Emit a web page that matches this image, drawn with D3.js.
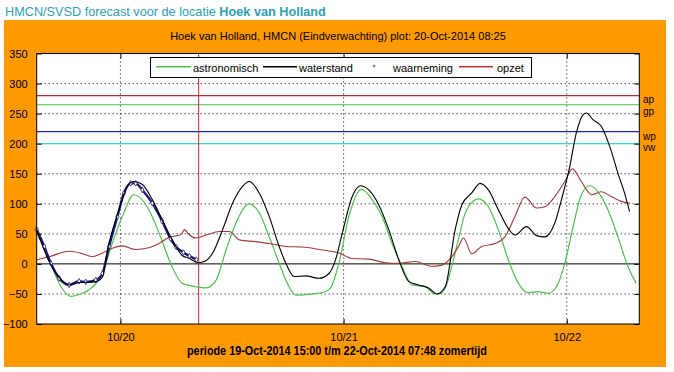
<!DOCTYPE html>
<html><head><meta charset="utf-8">
<script src="https://cdn.jsdelivr.net/npm/d3@7"></script>
<style>
body{margin:0;background:#fff;}
svg{display:block;font-family:Arial,"Liberation Sans",sans-serif;}
</style></head><body>
<svg id="c" width="674" height="372"></svg>
<script>
// ---- data (hours since 19-Oct-2014 15:00, values in cm) ----
const yTicks = [-100,-50,0,50,100,150,200,250,300,350];
const dayTicks = ["10/20","10/21","10/22"];
const levelNames = ["ap","gp","wp","vw"];
const levelValues = [280,265,220,200];
const legendLabels = ["astronomisch","waterstand","waarneming","opzet"];

const astroT = [0,1.35,2.5,3.67,4.7,5.64,7.07,8.14,9.21,10.46,12.06,13.32,14.39,15.64,17.14,18.21,19.29,20.36,21.43,22.85,23.93,25.0,26.07,27.14,27.86,29.64,31.07,31.6,32.5,33.57,34.93,36.07,37.14,38.21,39.28,40.35,41.78,42.68,43.21,43.93,44.64,45.36,46.07,46.43,47.5,48.57,49.64,50.71,51.79,52.86,53.93,55.0,55.89,56.79,57.68,58.57,59.47,60.36,61.43,62.5,63.57,64.46];
const astroV = [52,7,-35,-54,-50,-43,-15,35,79,115,90,45,1,-32,-38,-40,-27,23,68,100,85,45,1,-38,-52,-50,-46,-40,1,79,124,107,79,34,-4,-35,-38,-49,-50,-40,-4,42,84,95,108,95,57,7,-32,-48,-46,-49,-38,1,62,115,130,120,90,45,-4,-32];

const waterT = [0,1.3,2.4,3.49,4.64,6.25,7.07,7.61,8.85,9.75,10.46,11.36,12.43,13.5,14.57,15.64,16.43,17.32,18.03,18.92,19.99,21.06,22.14,22.85,23.93,25.0,26.07,26.79,27.68,28.93,30.36,31.43,32.14,32.86,33.93,34.82,35.71,36.79,37.86,38.93,40.0,41.07,42.14,43.03,43.93,45.0,45.71,46.78,47.68,48.57,49.64,50.71,51.43,52.68,53.75,54.64,55.71,56.43,57.32,58.03,58.75,59.1,59.82,60.71,61.61,62.5,63.21,63.75];
const waterV = [57,5,-22,-35,-31,-30,-22,23,90,129,137,132,107,73,40,14,9,2,4,18,57,101,129,137,118,79,29,1,-21,-20,-24,-16,7,51,112,130,123,98,57,7,-29,-35,-40,-50,-38,57,98,118,134,123,90,59,48,62,47,45,68,107,162,218,248,251,240,229,196,151,118,87];

const obsT = [0,0.81,1.53,2.42,3.49,4.56,5.28,6.35,7.07,7.78,8.68,9.39,10.1,10.64,11.36,12.43,13.5,14.39,15.0,15.78,16.43,17.17];
const obsV = [57,29,1,-24,-35,-29,-30,-27,-16,29,79,118,134,134,123,101,71,42,28,19,13,7];

const surgeT = [0,1.35,3.49,4.93,6.0,7.07,8.14,9.21,10.64,12.06,13.14,14.21,15.36,15.64,15.89,16.24,17.14,18.21,19.64,20.71,21.79,23.57,25.35,26.79,28.57,30.36,32.5,33.92,35.71,37.5,38.93,40.71,42.5,43.57,44.64,45.36,45.89,46.78,47.85,49.28,50.35,51.43,52.5,53.75,54.64,55.71,56.79,57.61,58.57,59.68,60.71,61.79,62.86,63.75];
const surgeV = [7,12,21,17,12,18,26,30,24,27,34,44,48,51,57,51,43,48,54,54,40,37,33,29,28,24,18,9,8,2,1,4,-4,-2,12,29,43,17,29,34,45,79,111,93,95,112,137,158,137,115,120,112,104,101];

// ---- layout ----
const svg = d3.select("#c");
const L = 36.7, R = 639.3, T = 53.5, B = 324;
const t0 = new Date(2014,9,19,15,0), t1 = new Date(2014,9,22,7,48);
const hr = h => new Date(t0.getTime() + h*3600000);
const x = d3.scaleTime().domain([t0,t1]).range([L,R]);
const y = d3.scaleLinear().domain([-100,350]).range([B,T]);

const cGreen = "#4fbf4f", cBlack = "#000000", cNavy = "#1c1c78", cRed = "#a3383a";

svg.append("rect").attr("x",4).attr("y",20).attr("width",662).attr("height",347).attr("fill","#ff9900");
svg.append("text").attr("x",5).attr("y",16).attr("fill","#2f9db3").style("font-size","12.7px")
  .text("HMCN/SVSD forecast voor de locatie ")
  .append("tspan").attr("font-weight","bold").text("Hoek van Holland");
svg.append("text").attr("x",338).attr("y",40).attr("text-anchor","middle").style("font-size","11px")
  .text("Hoek van Holland, HMCN (Eindverwachting) plot: 20-Oct-2014 08:25");

svg.append("rect").attr("x",L).attr("y",T).attr("width",R-L).attr("height",B-T).attr("fill","#fff");

// grid
const dayDates = dayTicks.map((d,i)=>new Date(2014,9,20+i));
const g = svg.append("g");
g.selectAll("line.hg").data(yTicks.filter(v=>v!==0 && v!==-100 && v!==350)).join("line").attr("class","hg")
  .attr("x1",L).attr("x2",R).attr("y1",d=>y(d)).attr("y2",d=>y(d))
  .attr("stroke","#000").attr("stroke-dasharray","1,3");
g.selectAll("line.vg").data(dayDates).join("line").attr("class","vg")
  .attr("x1",d=>x(d)).attr("x2",d=>x(d)).attr("y1",T).attr("y2",B)
  .attr("stroke","#000").attr("stroke-dasharray","1,3");
g.append("line").attr("x1",L).attr("x2",R).attr("y1",y(0)).attr("y2",y(0)).attr("stroke","#000");

// level lines
const levelColors = ["#a83236","#6fd06f","#22229a","#3fd0d8"];
levelValues.forEach((v,i)=>{
  g.append("line").attr("x1",L).attr("x2",R).attr("y1",y(v)).attr("y2",y(v)).attr("stroke",levelColors[i]).attr("stroke-width",1.4);
});
svg.selectAll("text.lvl").data(levelNames).join("text").attr("class","lvl")
  .attr("x",643).attr("y",(d,i)=>[102.5,114.5,140,151][i]).style("font-size","10px").attr("fill","#000").text(d=>d);

// now line
const nowX = x(new Date(2014,9,20,8,25));
svg.append("line").attr("x1",nowX).attr("x2",nowX).attr("y1",T).attr("y2",B).attr("stroke","#c0282a");

// series
const line = d3.line().x(d=>x(hr(d[0]))).y(d=>y(d[1])).curve(d3.curveMonotoneX);
const z = (a,b)=>a.map((t,i)=>[t,b[i]]);
svg.append("path").attr("d",line(z(astroT,astroV))).attr("fill","none").attr("stroke",cGreen).attr("stroke-width",1.2);
svg.append("path").attr("d",line(z(surgeT,surgeV))).attr("fill","none").attr("stroke",cRed).attr("stroke-width",1.1);
svg.append("path").attr("d",line(z(obsT,obsV))).attr("fill","none").attr("stroke",cNavy).attr("stroke-width",2.4);
svg.selectAll("path.obs").data(z(obsT,obsV)).join("path").attr("class","obs")
  .attr("d",d3.symbol(d3.symbolDiamond,9)).attr("transform",d=>`translate(${x(hr(d[0]))},${y(d[1])})`)
  .attr("fill","#fff").attr("stroke",cNavy).attr("stroke-width",0.8);
svg.append("path").attr("d",line(z(waterT,waterV))).attr("fill","none").attr("stroke",cBlack).attr("stroke-width",1.1);

// frame & axes
svg.append("rect").attr("x",L).attr("y",T).attr("width",R-L).attr("height",B-T).attr("fill","none").attr("stroke","#000");
const ya = svg.append("g").attr("transform",`translate(${L},0)`)
  .call(d3.axisLeft(y).tickValues(yTicks).tickSize(-5).tickPadding(9));
const yr = svg.append("g").attr("transform",`translate(${R},0)`)
  .call(d3.axisRight(y).tickValues(yTicks).tickSize(-5).tickFormat(""));
const xa = svg.append("g").attr("transform",`translate(0,${B})`)
  .call(d3.axisBottom(x).tickValues(dayDates).tickSize(-5).tickPadding(9).tickFormat((d,i)=>dayTicks[i]));
const xt = svg.append("g").attr("transform",`translate(0,${T})`)
  .call(d3.axisTop(x).tickValues(dayDates).tickSize(-5).tickFormat(""));
[ya,yr,xa,xt].forEach(a=>{a.select(".domain").remove();a.selectAll("text").style("font-size","11px").attr("fill","#000").style("font-family","Arial,'Liberation Sans',sans-serif");a.selectAll(".tick line").attr("stroke","#000");});

svg.append("text").attr("x",337).attr("y",355).attr("text-anchor","middle")
  .style("font-size","12px").attr("font-weight","bold")
  .attr("textLength",300).attr("lengthAdjust","spacingAndGlyphs")
  .text("periode 19-Oct-2014 15:00 t/m 22-Oct-2014 07:48 zomertijd");

// legend
const lg = svg.append("g");
lg.append("rect").attr("x",150.5).attr("y",57.5).attr("width",381).attr("height",20).attr("fill","#fff").attr("stroke","#000");
const legendColors = [cGreen, cBlack, cNavy, "#c03030"];
const legendSample = [[156,191],[263,297],null,[459,493]];
const legendTextX = [193,299,393,497];
legendLabels.forEach((t,i)=>{
  const s = legendSample[i];
  if (s) lg.append("rect").attr("x",s[0]).attr("y",66).attr("width",s[1]-s[0]).attr("height",1.5)
           .attr("fill",legendColors[i]);
  else lg.append("circle").attr("cx",374).attr("cy",66).attr("r",1).attr("fill","none")
           .attr("stroke",legendColors[i]).attr("stroke-width",0.6);
  lg.append("text").attr("x",legendTextX[i]).attr("y",71.5).style("font-size","11px").attr("fill","#000").text(t);
});
</script>
</body></html>
